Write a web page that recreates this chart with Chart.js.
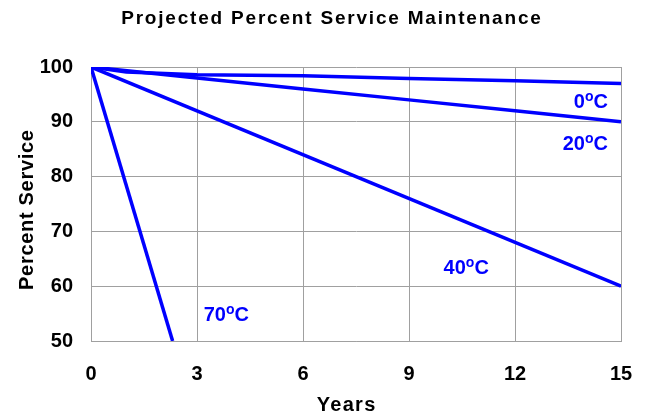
<!DOCTYPE html>
<html>
<head>
<meta charset="utf-8">
<script src="https://cdn.jsdelivr.net/npm/chart.js@4/dist/chart.umd.min.js"></script>
<style>
  html,body{margin:0;padding:0;background:#fff;overflow:hidden;}
  canvas{display:block;}
</style>
</head>
<body>
<canvas id="c" width="647" height="417"></canvas>
<script>
/* ---------- datos ---------- */
const xTicks   = [0, 3, 6, 9, 12, 15];
const yTicks   = [50, 60, 70, 80, 90, 100];

const years0   = [0, 1, 3, 6, 9, 12, 15];
const serv0    = [100, 99.1, 98.6, 98.4, 97.9, 97.5, 97.0];
const years20  = [0, 3, 6, 9, 12, 15];
const serv20   = [100, 98, 96, 94, 92, 90];
const years40  = [0, 15];
const serv40   = [100, 60];
const years70  = [0, 2.31];
const serv70   = [100, 50];

/* etiquetas de curva: texto y ancla derecha/base (en unidades de datos) */
const curveNames = ['0', '20', '40', '70'];
const labelYears = [14.63, 14.63, 11.26, 4.47];
const labelServ  = [92.5, 84.85, 62.2, 53.65];

const BLUE = '#0000ff';
const GRID = '#a0a0a0';
const FONT = '"Liberation Sans", Arial, sans-serif';

const pts = (xs, ys) => xs.map((x, i) => ({x, y: ys[i]}));
const ds  = (xs, ys) => ({data: pts(xs, ys), borderColor: BLUE, borderWidth: 3.5,
                          pointRadius: 0, tension: 0, fill: false});

/* ---------- textos con espaciado ---------- */
function spaced(ctx, txt, x, y, spacing){
  ctx.save();
  ctx.letterSpacing = spacing + 'px';
  ctx.fillText(txt, x + spacing / 2, y);   // compensa el espacio final
  ctx.restore();
}

const deco = {
  id: 'deco',
  afterDraw(chart){
    const {ctx, scales:{x, y}} = chart;
    ctx.save();
    ctx.fillStyle = '#000';
    ctx.textAlign = 'center';
    ctx.textBaseline = 'alphabetic';

    ctx.font = `bold 19px ${FONT}`;
    spaced(ctx, 'Projected Percent Service Maintenance', 331, 24, 1.8);

    ctx.font = `bold 20px ${FONT}`;
    spaced(ctx, 'Years', 346, 411, 1.3);

    ctx.save();
    ctx.translate(33, 210);
    ctx.rotate(-Math.PI / 2);
    spaced(ctx, 'Percent Service', 0, 0, 0.7);
    ctx.restore();

    /* etiquetas 0ºC, 20ºC ... alineadas a la derecha */
    ctx.fillStyle = BLUE;
    ctx.textAlign = 'left';
    curveNames.forEach((n, i) => {
      const big = `bold 20px ${FONT}`, sup = `bold 14px ${FONT}`;
      ctx.font = big;  const wN = ctx.measureText(n).width, wC = ctx.measureText('C').width;
      ctx.font = sup;  const wO = ctx.measureText('o').width;
      const right = x.getPixelForValue(labelYears[i]);
      const base  = y.getPixelForValue(labelServ[i]);
      let px = right - (wN + wO + wC);
      ctx.font = big; ctx.fillText(n, px, base); px += wN;
      ctx.font = sup; ctx.fillText('o', px, base - 7); px += wO;
      ctx.font = big; ctx.fillText('C', px, base);
    });
    ctx.restore();
  }
};

new Chart(document.getElementById('c'), {
  type: 'line',
  data: {datasets: [ds(years0, serv0), ds(years20, serv20), ds(years40, serv40), ds(years70, serv70)]},
  options: {
    responsive: false, animation: false, devicePixelRatio: 1,
    layout: {padding: {top: 67, right: 26, left: 0, bottom: 0}},
    plugins: {legend: {display: false}, tooltip: {enabled: false}},
    scales: {
      x: {
        type: 'linear', min: 0, max: 15,
        afterBuildTicks: s => { s.ticks = xTicks.map(v => ({value: v})); },
        afterFit: s => { s.height = 76; s.paddingLeft = 0; s.paddingRight = 0; },
        grid: {color: GRID, lineWidth: 1, drawTicks: false},
        border: {color: GRID, width: 1},
        ticks: {color: '#000', padding: 21, maxRotation: 0, font: {family: FONT, size: 20, weight: 'bold'}}
      },
      y: {
        min: 50, max: 100,
        afterBuildTicks: s => { s.ticks = yTicks.map(v => ({value: v})); },
        afterFit: s => { s.width = 91; s.paddingTop = 0; s.paddingBottom = 0; },
        grid: {color: GRID, lineWidth: 1, drawTicks: false},
        border: {color: GRID, width: 1},
        ticks: {color: '#000', padding: 18, font: {family: FONT, size: 20, weight: 'bold'}}
      }
    }
  },
  plugins: [deco]
});
</script>
</body>
</html>
